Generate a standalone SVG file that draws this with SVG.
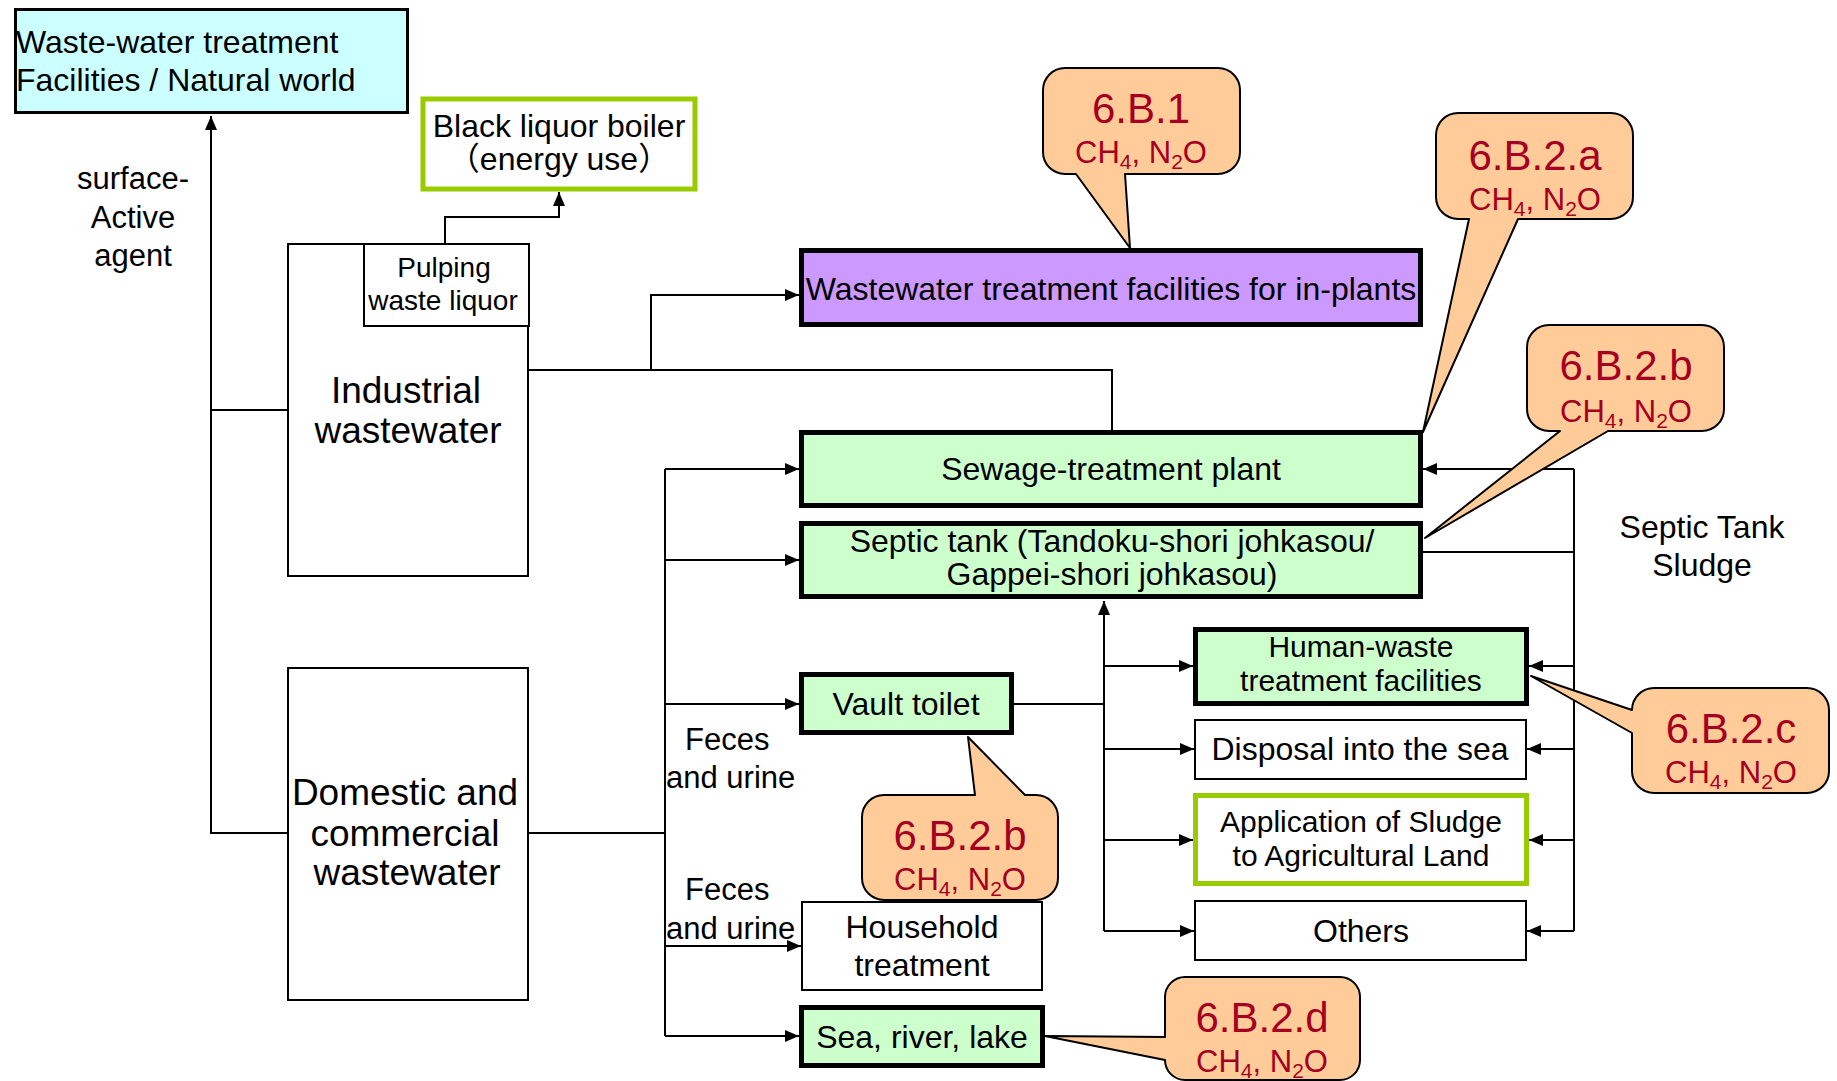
<svg xmlns="http://www.w3.org/2000/svg" width="1837" height="1081" viewBox="0 0 1837 1081">
<style>
.t{font-family:"Liberation Sans",Arial,"Noto Sans CJK JP",sans-serif;font-size:32px;fill:#000}
.c{text-anchor:middle}
.red{fill:#a50021}
.big{font-size:42px}
.cf{font-size:31px}
.f37{font-size:37px}
.f30{font-size:30px}
.f28{font-size:28px}
.sub{font-size:21px}
.thin{fill:#fff;stroke:#000;stroke-width:2}
.thick{stroke:#000;stroke-width:5}
.green{fill:#ccffcc}
.lime{fill:#fff;stroke:#99cc00;stroke-width:5}
.conn{fill:none;stroke:#000;stroke-width:2}
.arr{marker-end:url(#ah)}
.callout{fill:#ffcc99;stroke:#000;stroke-width:2;stroke-linejoin:round}
</style>
<defs>
<marker id="ah" viewBox="0 0 14 12" refX="14" refY="6" markerUnits="userSpaceOnUse" markerWidth="14" markerHeight="12" orient="auto">
<path d="M0,0 L14,6 L0,12 Z" fill="#000"/>
</marker>
</defs>
<rect width="1837" height="1081" fill="#fff"/>

<g id="connectors">
<path class="conn arr" d="M287,833 H211 V116"/>
<path class="conn" d="M287,410 H211"/>
<path class="conn arr" d="M445,243 V217 H559 V192"/>
<path class="conn" d="M529,370 H1112 V430"/>
<path class="conn arr" d="M651,370 V295 H799"/>
<path class="conn" d="M529,833 H665"/>
<path class="conn" d="M665,469 V1036"/>
<path class="conn arr" d="M665,469 H799"/>
<path class="conn arr" d="M665,560 H799"/>
<path class="conn arr" d="M665,704 H799"/>
<path class="conn arr" d="M665,946 H801"/>
<path class="conn arr" d="M665,1036 H799"/>
<path class="conn" d="M1014,704 H1104"/>
<path class="conn arr" d="M1104,931 V601"/>
<path class="conn arr" d="M1104,666 H1193"/>
<path class="conn arr" d="M1104,749 H1194"/>
<path class="conn arr" d="M1104,840 H1193"/>
<path class="conn arr" d="M1104,931 H1194"/>
<path class="conn" d="M1574,469 V931"/>
<path class="conn arr" d="M1574,469 H1423"/>
<path class="conn" d="M1423,552 H1574"/>
<path class="conn arr" d="M1574,666 H1529"/>
<path class="conn arr" d="M1574,749 H1527"/>
<path class="conn arr" d="M1574,840 H1529"/>
<path class="conn arr" d="M1574,931 H1527"/>
</g>

<g id="labels">
<text class="t cf c" x="133" y="189">surface-</text>
<text class="t cf c" x="133" y="228">Active</text>
<text class="t cf c" x="133" y="266">agent</text>
<text class="t cf" x="685" y="750">Feces</text>
<text class="t cf" x="666" y="788">and urine</text>
<text class="t cf" x="685" y="900">Feces</text>
<text class="t cf" x="666" y="939">and urine</text>
<text class="t c" x="1702" y="538">Septic Tank</text>
<text class="t c" x="1702" y="576">Sludge</text>
</g>

<g id="waste-water-world">
<rect x="15.5" y="9.5" width="392" height="103" fill="#ccffff" stroke="#000" stroke-width="3"/>
<text class="t" x="16" y="53">Waste-water treatment</text>
<text class="t" x="16" y="91">Facilities / Natural world</text>
</g>

<g id="black-liquor">
<rect x="423" y="99" width="272" height="90" class="lime"/>
<text class="t c" x="559" y="137">Black liquor boiler</text>
<text class="t c" x="559" y="170">（energy use）</text>
</g>

<g id="industrial">
<rect x="288" y="244" width="240" height="332" class="thin"/>
<text class="t c f37" x="406" y="403">Industrial</text>
<text class="t c f37" x="408" y="443">wastewater</text>
</g>

<g id="pulping">
<rect x="364" y="244" width="165" height="82" class="thin"/>
<text class="t c f28" x="444" y="277">Pulping</text>
<text class="t c f28" x="443" y="310">waste liquor</text>
</g>

<g id="domestic">
<rect x="288" y="668" width="240" height="332" class="thin"/>
<text class="t c f37" x="405" y="805">Domestic and</text>
<text class="t c f37" x="405" y="846">commercial</text>
<text class="t c f37" x="407" y="885">wastewater</text>
</g>

<g id="inplant">
<rect x="801.5" y="250.5" width="619" height="74" fill="#cc99ff" class="thick"/>
<text class="t c" x="1111" y="300">Wastewater treatment facilities for in-plants</text>
</g>

<g id="sewage">
<rect x="801.5" y="432.5" width="619" height="73" class="green thick"/>
<text class="t c" x="1111" y="480">Sewage-treatment plant</text>
</g>

<g id="septic">
<rect x="801.5" y="523.5" width="619" height="73" class="green thick"/>
<text class="t c" x="1112" y="552">Septic tank (Tandoku-shori johkasou/</text>
<text class="t c" x="1112" y="585">Gappei-shori johkasou)</text>
</g>

<g id="vault">
<rect x="801.5" y="674.5" width="210" height="58" class="green thick"/>
<text class="t c" x="906" y="715">Vault toilet</text>
</g>

<g id="household">
<rect x="802" y="902" width="240" height="88" class="thin"/>
<text class="t c" x="922" y="938">Household</text>
<text class="t c" x="922" y="976">treatment</text>
</g>

<g id="sea">
<rect x="801.5" y="1007.5" width="241" height="58" class="green thick"/>
<text class="t c" x="922" y="1048">Sea, river, lake</text>
</g>

<g id="human-waste">
<rect x="1195.5" y="629.5" width="331" height="74" class="green thick"/>
<text class="t c f30" x="1361" y="657">Human-waste</text>
<text class="t c f30" x="1361" y="691">treatment facilities</text>
</g>

<g id="disposal">
<rect x="1195" y="720" width="331" height="59" class="thin"/>
<text class="t c" x="1360" y="760">Disposal into the sea</text>
</g>

<g id="application">
<rect x="1195.5" y="795.5" width="331" height="88" class="lime"/>
<text class="t c f30" x="1361" y="832">Application of Sludge</text>
<text class="t c f30" x="1361" y="866">to Agricultural Land</text>
</g>

<g id="others">
<rect x="1195" y="901" width="331" height="59" class="thin"/>
<text class="t c" x="1361" y="942">Others</text>
</g>

<g id="callout-6B1">
<path class="callout" d="M1065,68 H1218 A22,22 0 0 1 1240,90 V152 A22,22 0 0 1 1218,174 H1125 L1130,248 L1076,174 H1065 A22,22 0 0 1 1043,152 V90 A22,22 0 0 1 1065,68 Z"/>
<text class="t c red big" x="1141" y="123">6.B.1</text>
<text class="t c red cf" x="1141" y="163">CH<tspan class="sub" dy="6">4</tspan><tspan dy="-6">, N</tspan><tspan class="sub" dy="6">2</tspan><tspan dy="-6">O</tspan></text>
</g>

<g id="callout-6B2a">
<path class="callout" d="M1458,113 H1611 A22,22 0 0 1 1633,135 V197 A22,22 0 0 1 1611,219 H1518 L1423,432 L1469,219 H1458 A22,22 0 0 1 1436,197 V135 A22,22 0 0 1 1458,113 Z"/>
<text class="t c red big" x="1535" y="170">6.B.2.a</text>
<text class="t c red cf" x="1535" y="210">CH<tspan class="sub" dy="6">4</tspan><tspan dy="-6">, N</tspan><tspan class="sub" dy="6">2</tspan><tspan dy="-6">O</tspan></text>
</g>

<g id="callout-6B2b-upper">
<path class="callout" d="M1549,325 H1702 A22,22 0 0 1 1724,347 V409 A22,22 0 0 1 1702,431 H1608 L1425,538 L1560,431 H1549 A22,22 0 0 1 1527,409 V347 A22,22 0 0 1 1549,325 Z"/>
<text class="t c red big" x="1626" y="380">6.B.2.b</text>
<text class="t c red cf" x="1626" y="422">CH<tspan class="sub" dy="6">4</tspan><tspan dy="-6">, N</tspan><tspan class="sub" dy="6">2</tspan><tspan dy="-6">O</tspan></text>
</g>

<g id="callout-6B2c">
<path class="callout" d="M1654,688 H1807 A22,22 0 0 1 1829,710 V771 A22,22 0 0 1 1807,793 H1654 A22,22 0 0 1 1632,771 V733 L1531,676 L1632,710 A22,22 0 0 1 1654,688 Z"/>
<text class="t c red big" x="1731" y="743">6.B.2.c</text>
<text class="t c red cf" x="1731" y="783">CH<tspan class="sub" dy="6">4</tspan><tspan dy="-6">, N</tspan><tspan class="sub" dy="6">2</tspan><tspan dy="-6">O</tspan></text>
</g>

<g id="callout-6B2b-lower">
<path class="callout" d="M884,795 H975 L968,737 L1025,795 H1036 A22,22 0 0 1 1058,817 V878 A22,22 0 0 1 1036,900 H884 A22,22 0 0 1 862,878 V817 A22,22 0 0 1 884,795 Z"/>
<text class="t c red big" x="960" y="850">6.B.2.b</text>
<text class="t c red cf" x="960" y="890">CH<tspan class="sub" dy="6">4</tspan><tspan dy="-6">, N</tspan><tspan class="sub" dy="6">2</tspan><tspan dy="-6">O</tspan></text>
</g>

<g id="callout-6B2d">
<path class="callout" d="M1185,977 H1340 A20,20 0 0 1 1360,997 V1060 A20,20 0 0 1 1340,1080 H1185 A20,20 0 0 1 1165,1060 L1045,1036 L1165,1037 V997 A20,20 0 0 1 1185,977 Z"/>
<text class="t c red big" x="1262" y="1032">6.B.2.d</text>
<text class="t c red cf" x="1262" y="1072">CH<tspan class="sub" dy="6">4</tspan><tspan dy="-6">, N</tspan><tspan class="sub" dy="6">2</tspan><tspan dy="-6">O</tspan></text>
</g>
</svg>
